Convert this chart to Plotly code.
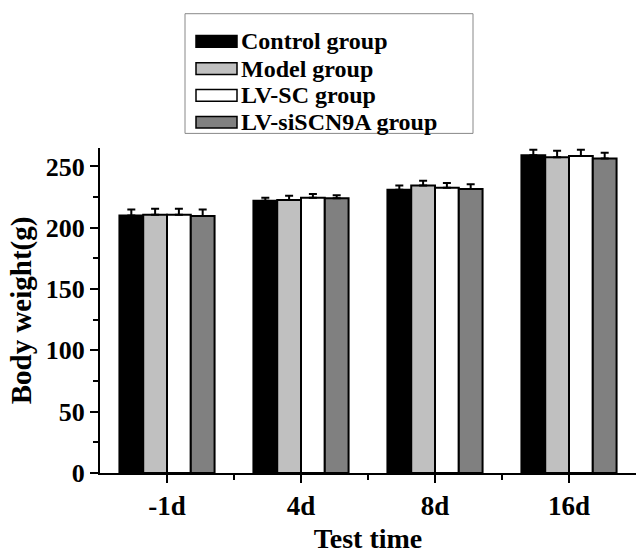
import plotly.graph_objects as go

categories = ["-1d", "4d", "8d", "16d"]
group_names = ["Control group", "Model group", "LV-SC group", "LV-siSCN9A group"]
control = [210, 222, 231, 259]
model = [210.5, 222.5, 234.5, 257.5]
lv_sc = [210.5, 224.5, 232.5, 258.5]
lv_si = [209.5, 224, 231.5, 256.5]
control_err = [4.8, 2.5, 3.4, 4.5]
model_err = [5.0, 3.5, 3.7, 5.3]
lv_sc_err = [5.0, 3.0, 4.0, 5.0]
lv_si_err = [5.3, 2.5, 4.0, 4.7]
y_ticks = [0, 50, 100, 150, 200, 250]

colors = ["#000000", "#c0c0c0", "#ffffff", "#808080"]
values = [control, model, lv_sc, lv_si]
errors = [control_err, model_err, lv_sc_err, lv_si_err]

FONT = "Liberation Serif"
W, H = 641, 554
L, R, T, B = 100, 5, 148, 72
PW, PH = W - L - R, H - T - B

xs = list(range(len(categories)))

fig = go.Figure()
for name, vals, errs, col in zip(group_names, values, errors, colors):
    fig.add_trace(go.Bar(
        x=xs, y=vals, name=name,
        marker=dict(color=col, line=dict(color="#000000", width=2)),
        error_y=dict(type="data", array=errs, arrayminus=[0] * len(errs),
                     symmetric=False, color="#000000", thickness=2, width=4),
        showlegend=False,
    ))


def px_x(x):
    return (x - L) / PW


def px_y(y):
    return (H - B - y) / PH


shapes = []
annotations = []
# legend box
shapes.append(dict(type="rect", xref="paper", yref="paper",
                   x0=px_x(185), x1=px_x(473), y0=px_y(133), y1=px_y(10),
                   line=dict(color="#888888", width=1), fillcolor="rgba(0,0,0,0)"))
row_y = [38.5, 66.5, 94, 121.5]
for name, col, ry in zip(group_names, colors, row_y):
    shapes.append(dict(type="rect", xref="paper", yref="paper",
                       x0=px_x(196), x1=px_x(237), y0=px_y(ry + 6), y1=px_y(ry - 6),
                       line=dict(color="#000000", width=1.5), fillcolor=col))
    annotations.append(dict(xref="paper", yref="paper", x=px_x(239), y=px_y(ry),
                            xanchor="left", yanchor="middle", showarrow=False,
                            text=f"<b>{name}</b>",
                            font=dict(family=FONT, size=24, color="#000000")))

fig.update_layout(
    width=W, height=H,
    margin=dict(l=L, r=R, t=T, b=B, pad=0),
    paper_bgcolor="white", plot_bgcolor="white",
    barmode="group", bargap=0.29, bargroupgap=0,
    font=dict(family=FONT, size=26, color="#000000"),
    shapes=shapes, annotations=annotations,
    xaxis=dict(
        range=[-0.5, 3.5], tickmode="array", tickvals=xs,
        ticktext=[f"<b>{c}</b>" for c in categories],
        showline=True, linecolor="#000000", linewidth=2, mirror=False,
        ticks="outside", ticklen=8, tickwidth=2, tickcolor="#000000",
        showgrid=False, zeroline=False,
        tickfont=dict(family=FONT, size=27, color="#000000"),
        minor=dict(tickmode="array", tickvals=[0.5, 1.5, 2.5], ticks="outside",
                   ticklen=5, tickwidth=2, tickcolor="#000000", showgrid=False),
        title=dict(text="<b>Test time</b>", standoff=8,
                   font=dict(family=FONT, size=28, color="#000000")),
    ),
    yaxis=dict(
        range=[0, 265], tickmode="array", tickvals=y_ticks,
        ticktext=[f"<b>{v}</b>" for v in y_ticks],
        showline=True, linecolor="#000000", linewidth=2,
        ticks="outside", ticklen=8, tickwidth=2, tickcolor="#000000",
        showgrid=False, zeroline=False,
        tickfont=dict(family=FONT, size=26, color="#000000"),
        minor=dict(tickmode="array", tickvals=[25, 75, 125, 175, 225], ticks="outside",
                   ticklen=5, tickwidth=2, tickcolor="#000000", showgrid=False),
        title=dict(text="<b>Body weight(g)</b>", standoff=6,
                   font=dict(family=FONT, size=29, color="#000000")),
    ),
)

fig.write_html("out.html")
